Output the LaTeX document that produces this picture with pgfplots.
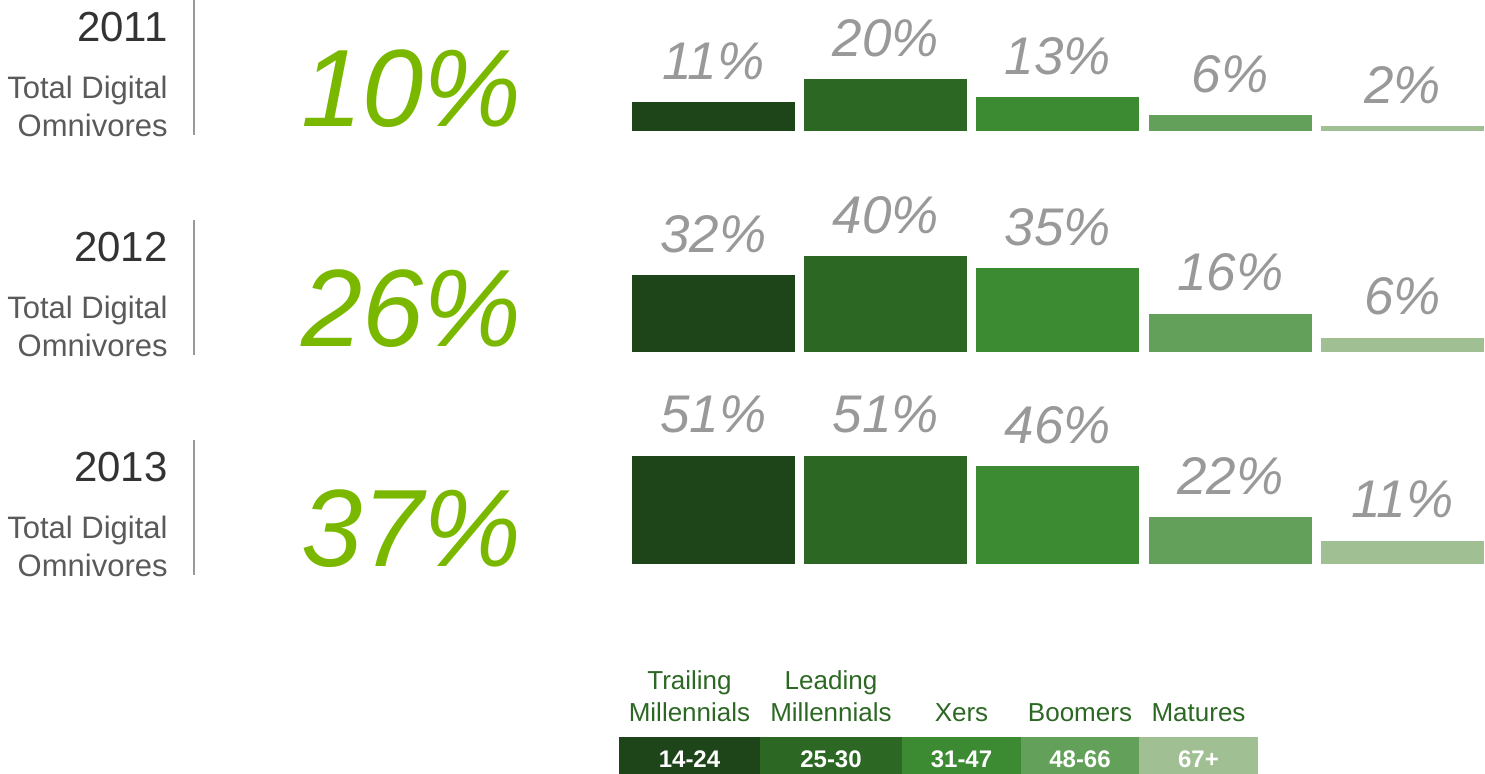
\documentclass[border=0pt]{standalone}
\usepackage{pgfplots}
\pgfplotsset{compat=1.18}
\usepackage{fontspec}
\setmainfont{Liberation Sans}
\definecolor{c1}{HTML}{1E4419}
\definecolor{c2}{HTML}{2C6823}
\definecolor{c3}{HTML}{3C8A31}
\definecolor{c4}{HTML}{63A15A}
\definecolor{c5}{HTML}{A0BF92}
\definecolor{big}{HTML}{7AB800}
\definecolor{lbl}{HTML}{999999}
\definecolor{yr}{HTML}{333333}
\definecolor{sub}{HTML}{5A5A5A}
\pgfplotsset{rowbar/.style={
  ybar, bar width=81.5pt, bar shift=0pt, x=86.125pt,
  xmin=-0.48, xmax=4.48, ymin=0, ymax=60,
  axis lines=none, clip=false, anchor=south west,
  point meta=y,
  /pgf/number format/assume math mode=true,
  nodes near coords={\pgfmathprintnumber{\pgfplotspointmeta}\%},
  every node near coord/.append style={anchor=south, inner sep=0pt, yshift=11pt,
    text=lbl, font=\fontsize{26.5}{26.5}\selectfont\itshape},
}}
\begin{document}
\begin{tikzpicture}
\begin{scope}[x=0.5pt,y=0.5pt]
% ---- row labels
\foreach \yr/\off/\pc in {2011/0/10, 2012/220/26, 2013/440/37}{
  \node[anchor=base east, inner sep=0pt, text=yr, font=\fontsize{21}{21}\selectfont] at (168,{774-42-\off}) {\yr};
  \node[anchor=base east, inner sep=0pt, text=sub, font=\fontsize{15.5}{15.5}\selectfont] at (168,{774-99-\off}) {Total Digital};
  \node[anchor=base east, inner sep=0pt, text=sub, font=\fontsize{15.5}{15.5}\selectfont] at (168,{774-137-\off}) {Omnivores};
  \draw[lbl, line width=1pt] (194,{774-\off}) -- (194,{774-135-\off});
  \node[anchor=base east, inner sep=0pt, text=big, font=\fontsize{55}{55}\selectfont\itshape] at (522,{774-127-\off}) {\pc\%};
}
% ---- legend
\foreach \xa/\xb/\c/\t in {619/760/c1/14-24, 760/902/c2/25-30, 902/1021/c3/31-47, 1021/1139/c4/48-66, 1139/1258/c5/67+}{
  \fill[\c] (\xa,0) rectangle (\xb,37);
  \node[anchor=base, inner sep=0pt, text=white, font=\fontsize{12}{12}\selectfont\bfseries] at ({(\xa+\xb)/2},6) {\t};
}
\foreach \x/\a/\b in {689.5/Trailing/Millennials, 831/Leading/Millennials}{
  \node[anchor=base, inner sep=0pt, text=c2, font=\fontsize{13}{13}\selectfont] at (\x,{774-690}) {\a};
  \node[anchor=base, inner sep=0pt, text=c2, font=\fontsize{13}{13}\selectfont] at (\x,{774-722}) {\b};
}
\foreach \x/\b in {961.5/Xers, 1080/Boomers, 1198.5/Matures}{
  \node[anchor=base, inner sep=0pt, text=c2, font=\fontsize{13}{13}\selectfont] at (\x,{774-722}) {\b};
}
\end{scope}
% ---- row 2011
\begin{axis}[rowbar, y=1.3pt, at={(315.4pt,321.5pt)}]
\addplot[fill=c1, draw=none] coordinates {(0,11)};
\addplot[fill=c2, draw=none] coordinates {(1,20)};
\addplot[fill=c3, draw=none] coordinates {(2,13)};
\addplot[fill=c4, draw=none] coordinates {(3,6)};
\addplot[fill=c5, draw=none] coordinates {(4,2)};
\end{axis}
% ---- row 2012
\begin{axis}[rowbar, y=1.2pt, at={(315.4pt,211pt)}]
\addplot[fill=c1, draw=none] coordinates {(0,32)};
\addplot[fill=c2, draw=none] coordinates {(1,40)};
\addplot[fill=c3, draw=none] coordinates {(2,35)};
\addplot[fill=c4, draw=none] coordinates {(3,16)};
\addplot[fill=c5, draw=none] coordinates {(4,6)};
\end{axis}
% ---- row 2013
\begin{axis}[rowbar, y=1.06pt, at={(315.4pt,105pt)}]
\addplot[fill=c1, draw=none] coordinates {(0,51)};
\addplot[fill=c2, draw=none] coordinates {(1,51)};
\addplot[fill=c3, draw=none] coordinates {(2,46)};
\addplot[fill=c4, draw=none] coordinates {(3,22)};
\addplot[fill=c5, draw=none] coordinates {(4,11)};
\end{axis}
\pgfresetboundingbox
\useasboundingbox (0,0) rectangle (742.5pt,387pt);
\end{tikzpicture}
\end{document}
